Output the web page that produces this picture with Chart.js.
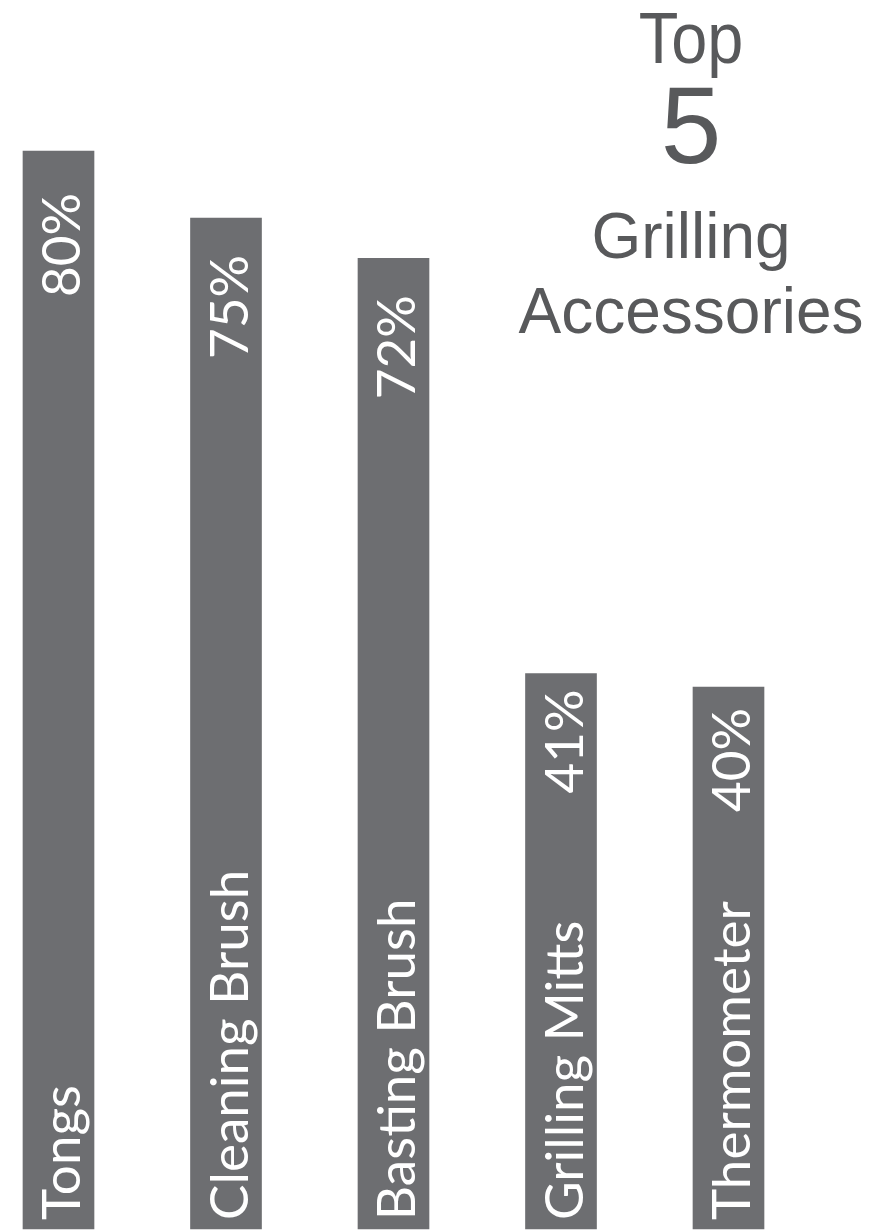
<!DOCTYPE html>
<html>
<head>
<meta charset="utf-8">
<script src="https://cdn.jsdelivr.net/npm/chart.js@4.4.0/dist/chart.umd.min.js"></script>
<style>
  html, body { margin: 0; padding: 0; background: #ffffff; }
  #wrap { position: relative; width: 869px; height: 1231px; }
</style>
</head>
<body>
<div id="wrap"><canvas id="c"></canvas></div>
<script>
// ---- data ----
const categories = ["Tongs", "Cleaning Brush", "Basting Brush", "Grilling Mitts", "Thermometer"];
const shares = [80, 75, 72, 41, 40];
const valueLabels = ["80%", "75%", "72%", "41%", "40%"];
const titleLines = ["Top", "5", "Grilling", "Accessories"];

// ---- style ----
const BAR_COLOR = "#6d6e71";
const TITLE_COLOR = "#58595b";
const Y_MIN = -0.448;
const Y_MAX = 91.27;
const pctLabelGap = [42, 37, 37, 16, 21];

const barTextPlugin = {
  id: "barText",
  afterDatasetsDraw(chart) {
    const ctx = chart.ctx;
    const meta = chart.getDatasetMeta(0);
    ctx.save();
    ctx.fillStyle = "#ffffff";
    ctx.font = "53px Lato";
    ctx.textBaseline = "alphabetic";
    meta.data.forEach((bar, i) => {
      const bx = bar.x + 21.5;
      // category name, reading bottom-to-top
      ctx.save();
      ctx.translate(bx, bar.base - 9);
      ctx.rotate(-Math.PI / 2);
      ctx.textAlign = "left";
      ctx.fillText(categories[i], 0, 0);
      ctx.restore();
      // value label near bar top
      ctx.save();
      ctx.translate(bx, bar.y + pctLabelGap[i]);
      ctx.rotate(-Math.PI / 2);
      ctx.textAlign = "right";
      ctx.fillText(valueLabels[i], 0, 0);
      ctx.restore();
    });
    ctx.restore();
  }
};

const titlePlugin = {
  id: "bigTitle",
  afterDraw(chart) {
    const ctx = chart.ctx;
    const cx = 691;
    const specs = [
      { size: 72, base: 63, sx: 0.9 },
      { size: 109, base: 163, sx: 1 },
      { size: 64, base: 258, sx: 1 },
      { size: 64, base: 333, sx: 1 }
    ];
    ctx.save();
    ctx.fillStyle = TITLE_COLOR;
    ctx.textAlign = "center";
    ctx.textBaseline = "alphabetic";
    titleLines.forEach((t, i) => {
      const s = specs[i];
      ctx.save();
      ctx.translate(cx, s.base);
      ctx.scale(s.sx, 1);
      ctx.font = s.size + 'px "Liberation Sans", Arial, sans-serif';
      ctx.fillText(t, 0, 0);
      ctx.restore();
    });
    ctx.restore();
  }
};

const whiteBg = {
  id: "whiteBg",
  beforeDraw(chart) {
    const ctx = chart.ctx;
    ctx.save();
    ctx.fillStyle = "#ffffff";
    ctx.fillRect(0, 0, chart.width, chart.height);
    ctx.restore();
  }
};

new Chart(document.getElementById("c"), {
  type: "bar",
  data: {
    labels: categories,
    datasets: [{
      data: shares,
      backgroundColor: BAR_COLOR,
      borderWidth: 0,
      barThickness: 71,
      base: Y_MIN,
      clip: false
    }]
  },
  options: {
    responsive: true,
    maintainAspectRatio: false,
    animation: false,
    devicePixelRatio: 1,
    layout: { padding: { left: 58.5, right: 140.5, top: 0, bottom: 2 } },
    plugins: {
      legend: { display: false },
      tooltip: { enabled: false },
      title: { display: false }
    },
    scales: {
      x: { type: "category", offset: false, display: false, grid: { display: false } },
      y: { min: Y_MIN, max: Y_MAX, display: false, grid: { display: false } }
    }
  },
  plugins: [whiteBg, barTextPlugin, titlePlugin]
});
</script>
</body>
</html>
